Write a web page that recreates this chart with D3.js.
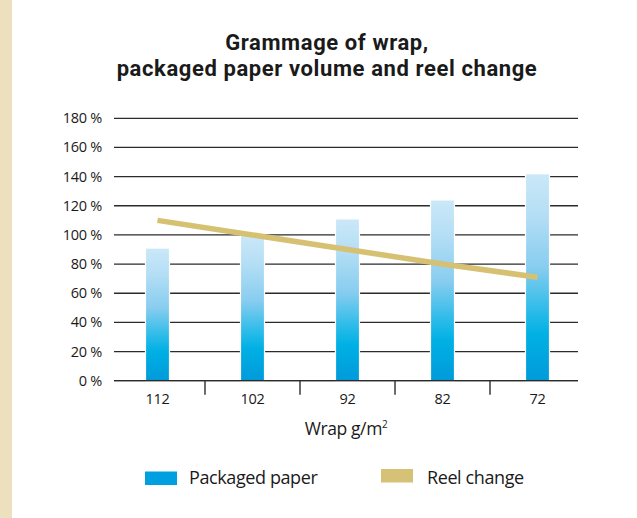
<!DOCTYPE html>
<html><head><meta charset="utf-8">
<script src="https://cdn.jsdelivr.net/npm/d3@7"></script>
<style>
html,body{margin:0;padding:0;background:#fff;}
svg{display:block;font-family:"Open Sans",sans-serif;}
</style></head>
<body>
<svg id="chart" width="637" height="518"></svg>
<script>
const categories = ["112", "102", "92", "82", "72"];
const packagedPaper = [91, 100, 111, 124, 142];
const reelChange = [110, 100, 90, 80, 71];
const yTicks = [0, 20, 40, 60, 80, 100, 120, 140, 160, 180];
const titleLines = ["Grammage of wrap,", "packaged paper volume and reel change"];

const svg = d3.select("#chart");
svg.append("rect").attr("x",0).attr("y",0).attr("width",12).attr("height",518).attr("fill","#ede0be");

const plotLeft = 114, plotRight = 578, plotTop = 118.3, plotBottom = 380.7;
const x = d3.scaleBand().domain(categories).range([110, 585]).paddingInner(0).paddingOuter(0);
const y = d3.scaleLinear().domain([0, 180]).range([plotBottom, plotTop]);

const defs = svg.append("defs");
const g = defs.append("linearGradient").attr("id","barGrad").attr("x1",0).attr("y1",1).attr("x2",0).attr("y2",0);
[[0,"#009ada"],[0.22,"#00b0e4"],[0.3,"#1cb8e8"],[0.55,"#88cdef"],[0.8,"#b4def5"],[1,"#cbe8f8"]]
  .forEach(([o,c])=>g.append("stop").attr("offset",o).attr("stop-color",c));

// title
svg.append("g").selectAll("text").data(titleLines).join("text")
  .attr("x",327).attr("y",(d,i)=>50+i*26).attr("text-anchor","middle")
  .style("font-family","Roboto, sans-serif")
  .attr("font-size",22).attr("font-weight",700).attr("fill","#1a1a1a")
  .attr("letter-spacing",0.6).text(d=>d);

// gridlines
svg.append("g").selectAll("line").data(yTicks).join("line")
  .attr("x1",plotLeft).attr("x2",plotRight).attr("y1",d=>y(d)).attr("y2",d=>y(d))
  .attr("stroke","#2b2b2b").attr("stroke-width",1.3);

// y labels
svg.append("g").selectAll("text").data(yTicks).join("text")
  .attr("x",102).attr("y",d=>y(d)+5).attr("text-anchor","end")
  .attr("font-size",14.5).attr("fill","#1a1a1a").attr("letter-spacing",-0.3)
  .text(d=>d+" %");

// x ticks between categories
const bounds = categories.slice(1).map(c=>x(c));
svg.append("g").selectAll("line").data(bounds).join("line")
  .attr("x1",d=>d).attr("x2",d=>d).attr("y1",plotBottom).attr("y2",plotBottom+14)
  .attr("stroke","#3a3a3a").attr("stroke-width",1.5);

// bars
const bw = 24;
svg.append("g").selectAll("rect").data(packagedPaper).join("rect")
  .attr("x",(d,i)=>x(categories[i])+x.bandwidth()/2-bw/2)
  .attr("width",bw)
  .attr("y",d=>y(d)).attr("height",d=>plotBottom-y(d))
  .attr("fill","url(#barGrad)").attr("stroke","#fff").attr("stroke-width",1.2);

// redraw baseline over bars
svg.append("line").attr("x1",plotLeft).attr("x2",plotRight).attr("y1",plotBottom).attr("y2",plotBottom)
  .attr("stroke","#2b2b2b").attr("stroke-width",1.3);

// line
const line = d3.line().x((d,i)=>x(categories[i])+x.bandwidth()/2).y(d=>y(d));
svg.append("path").datum(reelChange).attr("d",line)
  .attr("fill","none").attr("stroke","#d6c172").attr("stroke-width",5.5);

// x labels
svg.append("g").selectAll("text").data(categories).join("text")
  .attr("x",d=>x(d)+x.bandwidth()/2).attr("y",404).attr("text-anchor","middle")
  .attr("font-size",14.5).attr("fill","#1a1a1a").attr("letter-spacing",-0.3).text(d=>d);

// axis title
const at = svg.append("text").attr("x",346).attr("y",435).attr("text-anchor","middle")
  .attr("font-size",17.5).attr("fill","#1a1a1a").attr("letter-spacing",-0.4);
at.append("tspan").text("Wrap g/m");
at.append("tspan").attr("font-size",10).attr("dy",-7).text("2");

// legend
const legend = [["Packaged paper","#009fe0",145,471.5,189],["Reel change","#d6c277",381,469,427]];
legend.forEach(([t,c,rx,ry,tx])=>{
  svg.append("rect").attr("x",rx).attr("y",ry).attr("width",32).attr("height",13.5).attr("fill",c);
  svg.append("text").attr("x",tx).attr("y",483.5).attr("font-size",18).attr("fill","#1a1a1a")
    .attr("letter-spacing",-0.4).text(t);
});
</script>
</body></html>
